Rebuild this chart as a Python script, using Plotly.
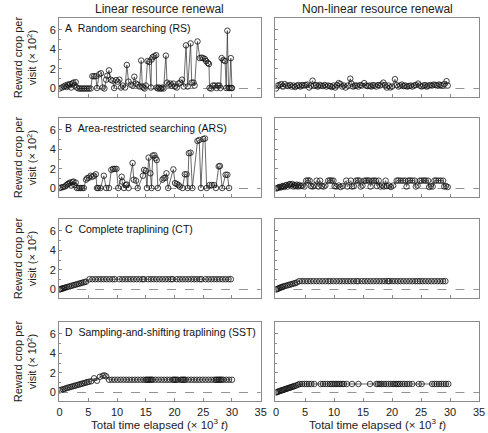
import plotly.graph_objects as go

# ---------------- DATA ----------------
# Panel A - Random searching (RS)
A_lin_t = [0.0, 0.4, 0.7, 1.0, 1.2, 1.4, 1.6, 1.8, 2.0, 2.2, 2.4, 2.6, 2.8, 3.0, 3.3, 3.6, 3.9, 4.2, 4.5, 4.8,
           5.1, 5.4, 5.7, 6.0, 6.3, 6.5, 6.9, 7.2, 7.5, 7.8, 8.1, 8.3, 8.6, 8.9, 9.2, 9.5, 9.8, 10.1, 10.4, 10.7,
           11.0, 11.4, 11.7, 12.0, 12.4, 12.7, 13.0, 13.3, 13.6, 13.9, 14.2, 14.4, 14.6, 14.8, 15.0, 15.3, 15.6,
           15.9, 16.0, 16.2, 16.5, 16.8, 16.9, 17.1, 17.3, 17.5, 17.7, 17.9, 18.1, 18.5, 18.7, 19.0, 19.3, 19.5,
           19.8, 20.1, 20.4, 20.7, 21.0, 21.3, 21.6, 22.0, 22.3, 22.8, 23.0, 23.3, 23.5, 24.0, 24.4, 24.7, 25.0,
           25.3, 25.5, 25.8, 26.0, 26.1, 26.4, 26.7, 27.0, 27.3, 27.5, 27.8, 28.0, 28.2, 28.5, 28.8, 29.0, 29.2,
           29.4, 29.6, 29.8, 29.9, 30.0]
A_lin_v = [0.0, 0.1, 0.2, 0.3, 0.15, 0.4, 0.3, 0.45, 0.1, 0.5, 0.6, 0.3, 0.65, 0.1, 0.0, 0.0, 0.0, 0.0, 0.0, 0.0,
           0.0, 0.0, 1.25, 1.25, 1.25, 0.05, 1.45, 1.55, 0.1, 0.0, 0.9, 1.3, 1.85, 0.9, 0.8, 0.05, 0.85, 0.7, 0.9, 0.1,
           0.3, 0.1, 2.4, 0.7, 0.4, 0.3, 1.2, 0.5, 0.4, 0.2, 2.85, 0.2, 0.1, 0.0, 0.3, 2.8, 2.7,
           0.1, 2.95, 3.2, 3.3, 3.4, 0.1, 0.0, 0.1, 0.0, 0.0, 0.1, 0.0, 3.35, 0.6, 0.4, 0.5, 0.3,
           0.5, 0.2, 0.1, 0.5, 0.6, 0.9, 0.2, 4.4, 0.2, 4.6, 0.6, 0.6, 0.3, 4.8, 3.1, 3.15, 3.1,
           3.0, 2.8, 2.6, 2.5, 0.05, 0.0, 0.3, 0.3, 0.05, 0.3, 0.3, 0.05, 3.1, 2.9, 2.8, 0.05, 5.9,
           0.05, 0.05, 3.1, 0.05, 0.05]
A_non_t = [0.0, 0.3, 0.6, 0.9, 1.2, 1.5, 1.8, 2.1, 2.4, 2.7, 3.0, 3.3, 3.6, 3.9, 4.2, 4.5, 4.8, 5.1, 5.4, 5.7,
           6.0, 6.3, 6.6, 6.9, 7.2, 7.5, 7.8, 8.1, 8.4, 8.7, 9.0, 9.3, 9.6, 9.9, 10.2, 10.5, 10.8, 11.1, 11.4,
           11.7, 12.0, 12.4, 12.8, 13.0, 13.3, 13.6, 13.9, 14.2, 14.5, 14.8, 15.2, 15.5, 15.8, 16.1, 16.4, 16.7,
           17.0, 17.3, 17.6, 17.9, 18.2, 18.5, 18.8, 19.1, 19.4, 19.7, 20.0, 20.5, 20.8, 21.1, 21.4, 21.7, 22.0,
           22.3, 22.6, 22.9, 23.2, 23.5, 23.8, 24.1, 24.5, 24.8, 25.1, 25.4, 25.7, 26.0, 26.3, 26.6, 26.9, 27.2,
           27.5, 27.8, 28.1, 28.4, 28.7, 29.0, 29.4, 29.6]
A_non_v = [0.0, 0.3, 0.35, 0.45, 0.2, 0.45, 0.3, 0.25, 0.35, 0.2, 0.3, 0.15, 0.3, 0.35, 0.2, 0.35, 0.3, 0.35, 0.4, 0.1,
           0.3, 0.8, 0.3, 0.35, 0.2, 0.35, 0.3, 0.25, 0.35, 0.2, 0.3, 0.25, 0.15, 0.3, 0.1, 0.35, 0.55, 0.45, 0.2,
           0.3, 0.1, 0.3, 1.0, 0.5, 0.2, 0.3, 0.3, 0.2, 0.35, 0.3, 0.55, 0.3, 0.25, 0.3, 0.2, 0.35,
           0.3, 0.2, 0.35, 0.3, 0.4, 0.6, 0.35, 0.1, 0.3, 0.1, 0.2, 0.95, 0.35, 0.2, 0.3, 0.4, 0.25,
           0.3, 0.2, 0.25, 0.3, 0.2, 0.3, 0.35, 0.5, 0.3, 0.2, 0.3, 0.35, 0.2, 0.3, 0.35, 0.3, 0.4,
           0.35, 0.3, 0.4, 0.35, 0.3, 0.45, 0.75, 0.3]

# Panel B - Area-restricted searching (ARS)
B_lin_t = [0.0, 0.3, 0.6, 0.9, 1.2, 1.4, 1.6, 1.8, 2.0, 2.2, 2.4, 2.6, 2.8, 3.0, 3.3, 3.6, 3.9, 4.2, 4.6, 4.8,
           5.1, 5.4, 5.7, 6.0, 6.3, 6.5, 6.7, 7.1, 7.7, 8.1, 8.6, 9.0, 9.3, 9.6, 9.9, 10.2, 10.8, 10.9, 11.2, 11.5,
           11.7, 12.0, 12.7, 12.9, 13.3, 13.6, 14.5, 14.7, 15.0, 15.2, 15.5, 15.8, 16.0, 16.2, 16.5, 16.7, 16.9,
           17.1, 17.9, 18.1, 18.4, 18.6, 18.9, 19.8, 20.1, 20.4, 20.7, 20.9, 21.4, 21.8, 22.1, 22.3, 22.5, 22.8,
           23.1, 24.0, 24.3, 24.6, 25.0, 25.3, 25.6, 26.1, 26.5, 26.9, 27.2, 27.7, 27.9, 28.3, 28.9, 29.2, 29.5]
B_lin_v = [0.05, 0.1, 0.15, 0.2, 0.35, 0.45, 0.5, 0.6, 0.3, 0.65, 0.7, 0.35, 0.6, 0.05, 0.05, 0.05, 0.05, 0.05, 0.9, 1.05,
           1.1, 1.3, 1.2, 1.3, 1.45, 0.05, 0.05, 0.05, 1.3, 0.05, 0.05, 1.9, 2.0, 2.0, 2.0, 0.05, 1.2, 0.7, 0.05, 0.35,
           0.4, 0.05, 2.6, 0.9, 0.8, 0.05, 1.3, 1.9, 1.8, 0.05, 3.15, 1.55, 0.05, 3.35, 3.4, 3.1, 2.9,
           0.05, 0.9, 1.05, 1.1, 1.55, 0.05, 1.95, 0.55, 0.45, 0.35, 0.2, 0.05, 1.45, 1.45, 0.05, 3.6, 3.65,
           0.05, 4.85, 4.95, 0.05, 5.05, 5.1, 0.05, 0.35, 0.35, 0.35, 0.05, 2.25, 2.3, 0.05, 1.4, 1.4, 0.05]
B_non_t = [0.0, 0.2, 0.4, 0.6, 0.8, 1.0, 1.2, 1.4, 1.6, 1.8, 2.0, 2.2, 2.4, 2.6, 2.8, 3.0, 3.2, 3.4, 3.6, 3.8,
           4.0, 4.3, 4.6, 4.9, 5.2, 5.5, 5.8, 6.0, 6.3, 6.6, 7.0, 7.3, 7.6, 7.9, 8.2, 8.5, 9.0, 9.3, 9.6, 9.9,
           10.1, 10.4, 10.8, 11.1, 11.5, 12.1, 12.3, 12.9, 13.1, 13.4, 13.8, 14.1, 14.4, 14.6, 14.9, 15.2, 15.5,
           15.8, 16.1, 16.3, 16.6, 16.9, 17.2, 17.4, 17.7, 18.0, 18.3, 18.6, 18.9, 19.1, 19.5, 19.8, 20.2, 20.8,
           21.1, 21.5, 21.9, 22.3, 22.5, 22.8, 23.1, 23.5, 23.9, 24.1, 24.4, 24.8, 25.1, 25.5, 25.8, 26.2, 26.4,
           26.7, 27.0, 27.3, 27.6, 28.0, 28.4, 28.8, 29.0, 29.3, 29.6]
B_non_v = [0.0, 0.05, 0.1, 0.15, 0.1, 0.2, 0.25, 0.15, 0.3, 0.35, 0.2, 0.4, 0.45, 0.3, 0.45, 0.2, 0.35, 0.25, 0.4, 0.2,
           0.35, 0.25, 0.3, 0.2, 0.8, 0.82, 0.8, 0.25, 0.2, 0.3, 0.8, 0.2, 0.8, 0.25, 0.2, 0.3, 0.8, 0.82, 0.8, 0.8,
           0.25, 0.2, 0.3, 0.15, 0.25, 0.8, 0.2, 0.8, 0.2, 0.25, 0.8, 0.82, 0.8, 0.2, 0.3, 0.8, 0.8,
           0.82, 0.8, 0.2, 0.8, 0.8, 0.8, 0.25, 0.8, 0.2, 0.3, 0.2, 0.8, 0.25, 0.3, 0.15, 0.3, 0.8,
           0.82, 0.8, 0.8, 0.8, 0.2, 0.8, 0.82, 0.8, 0.8, 0.2, 0.3, 0.8, 0.8, 0.82, 0.8, 0.8, 0.15,
           0.25, 0.2, 0.8, 0.82, 0.8, 0.8, 0.8, 0.2, 0.25, 0.15]

# Panel C - Complete traplining (CT)
C_lin_t = [0.0, 0.2, 0.4, 0.6, 0.8, 1.0, 1.3, 1.6, 1.9, 2.2, 2.5, 2.8, 3.1, 3.4, 3.7, 4.0, 4.3, 4.6,
           5.2, 5.7, 6.2, 6.7, 7.2, 7.7, 8.2, 8.7, 9.2, 9.6,
           10.4, 10.9, 11.4, 11.9, 12.4, 12.9, 13.4, 13.9, 14.4, 14.7,
           15.4, 15.9, 16.4, 16.9, 17.4, 17.9, 18.4, 18.9, 19.4, 19.7,
           20.4, 20.9, 21.4, 21.9, 22.4, 22.9, 23.4, 23.9, 24.4, 24.7,
           25.4, 25.9, 26.4, 26.9, 27.4, 27.9, 28.4, 28.9, 29.4, 29.8]
C_lin_v = [0.0, 0.05, 0.08, 0.12, 0.15, 0.2, 0.25, 0.3, 0.35, 0.4, 0.45, 0.5, 0.55, 0.6, 0.65, 0.7, 0.75, 0.8,
           1.05, 1.05, 1.05, 1.05, 1.05, 1.05, 1.05, 1.05, 1.05, 1.05,
           1.05, 1.05, 1.05, 1.05, 1.05, 1.05, 1.05, 1.05, 1.05, 1.05,
           1.05, 1.05, 1.05, 1.05, 1.05, 1.05, 1.05, 1.05, 1.05, 1.05,
           1.05, 1.05, 1.05, 1.05, 1.05, 1.05, 1.05, 1.05, 1.05, 1.05,
           1.05, 1.05, 1.05, 1.05, 1.05, 1.05, 1.05, 1.05, 1.05, 1.05]
C_non_t = [0.0, 0.2, 0.4, 0.6, 0.8, 1.0, 1.2, 1.5, 1.8, 2.1, 2.4, 2.7, 3.0, 3.3, 3.6,
           4.0, 4.5, 5.0, 5.5, 6.0, 6.5, 7.0, 7.5, 8.0, 8.5, 9.0, 9.4,
           9.9, 10.4, 10.9, 11.4, 11.9, 12.4, 12.9, 13.4, 13.9, 14.2,
           14.8, 15.3, 15.8, 16.3, 16.8, 17.3, 17.8, 18.3, 18.8, 19.3, 19.5,
           20.0, 20.5, 21.0, 21.5, 22.0, 22.5, 23.0, 23.5, 24.0, 24.4,
           24.8, 25.3, 25.8, 26.3, 26.8, 27.3, 27.8, 28.3, 28.8, 29.2]
C_non_v = [0.0, 0.05, 0.1, 0.15, 0.2, 0.25, 0.3, 0.35, 0.4, 0.45, 0.5, 0.55, 0.6, 0.65, 0.72,
           0.85, 0.85, 0.85, 0.85, 0.85, 0.85, 0.85, 0.85, 0.85, 0.85, 0.85, 0.85,
           0.85, 0.85, 0.85, 0.85, 0.85, 0.85, 0.85, 0.85, 0.85, 0.85,
           0.85, 0.85, 0.85, 0.85, 0.85, 0.85, 0.85, 0.85, 0.85, 0.85, 0.85,
           0.85, 0.85, 0.85, 0.85, 0.85, 0.85, 0.85, 0.85, 0.85, 0.85,
           0.85, 0.85, 0.85, 0.85, 0.85, 0.85, 0.85, 0.85, 0.85, 0.85]

# Panel D - Sampling-and-shifting traplining (SST)
D_lin_t = [0.0, 0.3, 0.6, 0.9, 1.2, 1.5, 1.8, 2.1, 2.4, 2.7, 3.0, 3.3, 3.6, 3.9, 4.2, 4.5, 4.8, 5.1, 5.5,
           6.0, 6.5, 7.0, 7.5, 7.8, 8.1, 8.6,
           9.1, 9.6, 10.1, 10.6, 11.1, 11.6, 12.1, 12.6, 13.1, 13.6, 14.1, 14.6, 15.0, 15.2, 15.4, 15.6, 15.8,
           16.0, 16.2, 16.7, 17.2, 17.7, 18.2, 18.7, 19.2, 19.7, 19.9, 20.1, 20.3, 20.6, 21.1, 21.3, 21.5, 21.7,
           21.9, 22.4, 22.9, 23.4, 23.9, 24.4, 24.9, 25.4, 25.9, 26.4, 26.9, 27.2, 27.4, 27.6, 27.8, 28.0, 28.2,
           28.5, 29.0, 29.5, 30.0]
D_lin_v = [0.22, 0.28, 0.32, 0.38, 0.45, 0.5, 0.55, 0.6, 0.65, 0.7, 0.75, 0.8, 0.85, 0.9, 0.95, 1.0, 1.05, 1.1, 1.15,
           1.45, 1.2, 1.6, 1.7, 1.75, 1.65, 1.3,
           1.3, 1.3, 1.3, 1.3, 1.3, 1.3, 1.3, 1.3, 1.3, 1.3, 1.3, 1.3, 1.3, 1.3, 1.3, 1.3, 1.3,
           1.3, 1.3, 1.3, 1.3, 1.3, 1.3, 1.3, 1.3, 1.3, 1.3, 1.3, 1.3, 1.3, 1.3, 1.3, 1.3, 1.3,
           1.3, 1.3, 1.3, 1.3, 1.3, 1.3, 1.3, 1.3, 1.3, 1.3, 1.3, 1.3, 1.3, 1.3, 1.3, 1.3, 1.3,
           1.3, 1.3, 1.3, 1.3]
D_non_t = [0.0, 0.2, 0.4, 0.6, 0.8, 1.0, 1.2, 1.4, 1.6, 1.8, 2.0, 2.2, 2.4, 2.6, 2.8, 3.0, 3.2, 3.5, 3.8,
           4.1, 4.5, 4.9, 5.3, 5.7, 6.1, 6.6,
           7.7, 8.1, 8.5, 8.9, 9.3, 9.6, 9.9, 10.2, 10.5, 10.8, 11.1, 11.4, 11.7, 12.2,
           13.1, 14.2, 16.2, 17.3, 17.6, 17.9, 18.2, 18.6, 19.0, 19.4, 19.8, 20.2, 20.5, 20.8, 21.1, 21.4,
           21.8, 22.2, 22.6, 23.0, 23.5, 24.6, 25.1, 26.9, 27.3, 27.7, 28.1, 28.5, 28.9, 29.3, 29.7]
D_non_v = [0.0, 0.05, 0.1, 0.14, 0.18, 0.22, 0.26, 0.3, 0.34, 0.38, 0.42, 0.46, 0.5, 0.54, 0.58, 0.62, 0.66, 0.72, 0.8,
           0.87, 0.87, 0.87, 0.87, 0.87, 0.87, 0.87,
           0.87, 0.87, 0.87, 0.87, 0.87, 0.87, 0.87, 0.87, 0.87, 0.87, 0.87, 0.87, 0.87, 0.87,
           0.87, 0.87, 0.87, 0.87, 0.87, 0.87, 0.87, 0.87, 0.87, 0.87, 0.87, 0.87, 0.87, 0.87, 0.87, 0.87,
           0.87, 0.87, 0.87, 0.87, 0.87, 0.87, 0.87, 0.87, 0.87, 0.87, 0.87, 0.87, 0.87, 0.87, 0.87]

panel_labels = ["A\u00a0\u00a0Random searching (RS)",
                "B\u00a0\u00a0Area-restricted searching (ARS)",
                "C\u00a0\u00a0Complete traplining (CT)",
                "D\u00a0\u00a0Sampling-and-shifting traplining (SST)"]
column_titles = ["Linear resource renewal", "Non-linear resource renewal"]
x_ticks = [0, 5, 10, 15, 20, 25, 30, 35]
y_ticks = [0, 2, 4, 6]
y_title = "Reward crop per<br>visit (\u00d7 10<sup>2</sup>)"
x_title = "Total time elapsed (\u00d7 10<sup>3</sup> <i>t</i>)"

series = [
    [(A_lin_t, A_lin_v), (A_non_t, A_non_v)],
    [(B_lin_t, B_lin_v), (B_non_t, B_non_v)],
    [(C_lin_t, C_lin_v), (C_non_t, C_non_v)],
    [(D_lin_t, D_lin_v), (D_non_t, D_non_v)],
]

# ---------------- LAYOUT ----------------
W, H = 488, 433
x_dom_px = [(58, 263), (278, 485)]
zero_px = [88.5, 188.5, 289.5, 392.5]
px_per_unit = 9.8
y_lo, y_hi = -0.9, 7.2
FONT = "Liberation Sans, Arial, sans-serif"
FRAME = "#8a8a8a"

fig = go.Figure()
layout = dict(width=W, height=H, margin=dict(l=0, r=0, t=0, b=0),
              plot_bgcolor="white", paper_bgcolor="white", showlegend=False,
              font=dict(family=FONT, size=11, color="#222"))
annotations = []
shapes = []

for r in range(4):
    top_px = zero_px[r] - y_hi * px_per_unit
    bot_px = zero_px[r] - y_lo * px_per_unit
    ydom = [1 - bot_px / H, 1 - top_px / H]
    for c in range(2):
        idx = 2 * r + c + 1
        xa = "x" if idx == 1 else f"x{idx}"
        ya = "y" if idx == 1 else f"y{idx}"
        t, v = series[r][c]
        fig.add_trace(go.Scatter(
            x=t, y=v, xaxis=xa, yaxis=ya, mode="lines+markers",
            line=dict(color="#2a2a2a", width=0.7),
            marker=dict(symbol="circle-open", size=5.5, color="#111", line=dict(width=0.8)),
            hoverinfo="skip"))
        xdom = [x_dom_px[c][0] / W, x_dom_px[c][1] / W]
        layout["xaxis" if idx == 1 else f"xaxis{idx}"] = dict(
            domain=xdom, anchor=ya, range=[-0.1, 35], tickvals=x_ticks,
            showticklabels=(r == 3), ticks="inside", ticklen=3, tickcolor=FRAME,
            showline=True, mirror=True, linecolor=FRAME, linewidth=1,
            showgrid=False, zeroline=False, tickfont=dict(size=11, color="#222"))
        layout["yaxis" if idx == 1 else f"yaxis{idx}"] = dict(
            domain=ydom, anchor=xa, range=[y_lo, y_hi], tickvals=y_ticks,
            showticklabels=(c == 0), ticks="inside", ticklen=3, tickcolor=FRAME,
            minor=dict(tickvals=[1, 3, 5], ticks="inside", ticklen=2, tickcolor=FRAME),
            showline=True, mirror=True, linecolor=FRAME, linewidth=1,
            showgrid=False, zeroline=False, tickfont=dict(size=11, color="#222"))
        shapes.append(dict(type="line", xref=f"{xa} domain", yref=ya, x0=0, x1=1, y0=0, y1=0,
                           line=dict(color="#777", width=0.8, dash="dash"), layer="below"))
        if c == 0:
            annotations.append(dict(text=panel_labels[r], xref="paper", yref="paper",
                                    x=62 / W, y=1 - (top_px + 10.5) / H, xanchor="left", yanchor="middle",
                                    showarrow=False, font=dict(size=10.5, color="#111")))
    annotations.append(dict(text=y_title, xref="paper", yref="paper", textangle=-90,
                            x=23 / W, y=1 - ((top_px + bot_px) / 2) / H, xanchor="center", yanchor="middle",
                            showarrow=False, font=dict(size=11, color="#222")))

for c in range(2):
    cx = (x_dom_px[c][0] + x_dom_px[c][1]) / 2 / W
    annotations.append(dict(text=column_titles[c], xref="paper", yref="paper", x=cx, y=1 - 8.5 / H,
                            xanchor="center", yanchor="middle", showarrow=False,
                            font=dict(size=12, color="#222")))
    annotations.append(dict(text=x_title, xref="paper", yref="paper", x=cx, y=1 - 424 / H,
                            xanchor="center", yanchor="middle", showarrow=False,
                            font=dict(size=11.5, color="#222")))

layout["annotations"] = annotations
layout["shapes"] = shapes
fig.update_layout(**layout)
fig.write_html("out.html", config={"displayModeBar": False},
               post_script="document.body.style.margin='0';document.body.style.overflow='hidden';")
